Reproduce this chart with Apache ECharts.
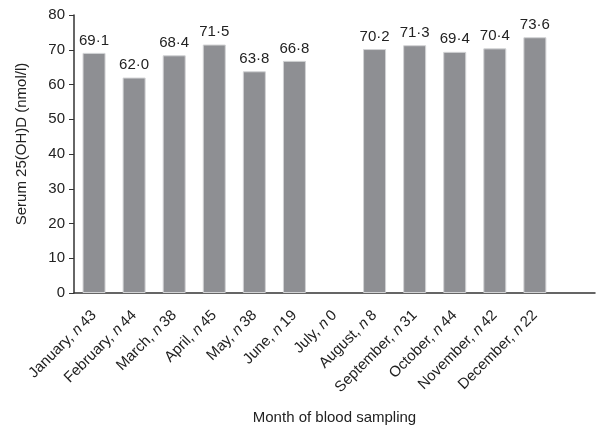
<!DOCTYPE html>
<html>
<head>
<meta charset="utf-8">
<script src="https://cdn.jsdelivr.net/npm/echarts@6/dist/echarts.min.js"></script>
<style>
  html, body { margin: 0; padding: 0; background: #fff; }
  #main { width: 597px; height: 427px; }
</style>
</head>
<body>
<div id="main"></div>
<script>
var months = ["January", "February", "March", "April", "May", "June", "July",
  "August", "September", "October", "November", "December", ""];
var counts = [43, 44, 38, 45, 38, 19, 0, 8, 31, 44, 42, 22, null];
var serumValues = [69.1, 62.0, 68.4, 71.5, 63.8, 66.8, null, 70.2, 71.3, 69.4, 70.4, 73.6, null];
var yTicks = [0, 10, 20, 30, 40, 50, 60, 70, 80];

var myChart = echarts.init(document.getElementById("main"));
var font = "Liberation Sans, Arial, sans-serif";

var option = {
  animation: false,
  textStyle: { fontFamily: font },
  grid: {
    left: 74,
    right: 2,
    top: 15,
    bottom: 134,
    outerBoundsMode: "none"
  },
  xAxis: {
    type: "category",
    data: months,
    name: "Month of blood sampling",
    nameLocation: "middle",
    nameGap: 117,
    nameTextStyle: { color: "#222", fontSize: 15 },
    axisLine: { lineStyle: { color: "#333", width: 1.5 } },
    axisTick: { inside: true, length: 5, lineStyle: { color: "#333" } },
    axisLabel: {
      interval: 0,
      rotate: 45,
      color: "#222",
      fontSize: 15,
      margin: 20,
      formatter: function (v, i) {
        if (!v) return "";
        return v + ", {i|n}\u2009" + counts[i];
      },
      rich: {
        i: { fontStyle: "italic", fontSize: 15, color: "#222" }
      }
    }
  },
  yAxis: {
    type: "value",
    min: yTicks[0],
    max: yTicks[yTicks.length - 1],
    interval: 10,
    name: "Serum 25(OH)D (nmol/l)",
    nameLocation: "middle",
    nameGap: 45,
    nameTextStyle: { color: "#222", fontSize: 15, padding: [0, 0, 0, 20] },
    axisLine: { show: true, lineStyle: { color: "#333", width: 1.5 } },
    axisTick: { show: true, length: 5, lineStyle: { color: "#333" } },
    splitLine: { show: false },
    axisLabel: { color: "#222", fontSize: 15, margin: 9 }
  },
  series: [
    {
      type: "bar",
      data: serumValues,
      barWidth: 23,
      itemStyle: {
        color: "#8e8f93",
        borderColor: "#d2d3d5",
        borderWidth: 1
      },
      label: {
        show: true,
        position: "top",
        distance: 5,
        color: "#222",
        fontSize: 15,
        formatter: function (p) {
          return p.value.toFixed(1).replace(".", "\u00b7");
        }
      }
    }
  ]
};

myChart.setOption(option);
</script>
</body>
</html>
